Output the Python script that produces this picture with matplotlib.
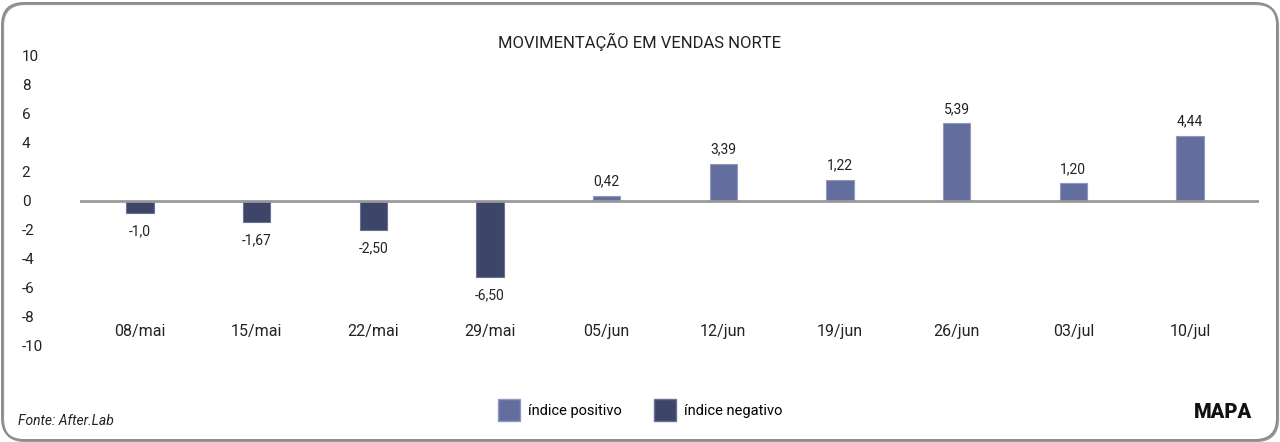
import matplotlib
matplotlib.use('Agg')
import matplotlib.pyplot as plt
from matplotlib.patches import Patch, FancyBboxPatch

# dados do grafico
semanas = ['08/mai', '15/mai', '22/mai', '29/mai', '05/jun',
           '12/jun', '19/jun', '26/jun', '03/jul', '10/jul']
# altura das barras como aparecem no grafico
valores = [-0.83, -1.47, -2.02, -5.26, 0.37, 2.57, 1.47, 5.36, 1.22, 4.50]
# rotulos escritos sobre as barras
rotulos = ['-1,0', '-1,67', '-2,50', '-6,50', '0,42',
           '3,39', '1,22', '5,39', '1,20', '4,44']
y_ticks = [10, 8, 6, 4, 2, 0, -2, -4, -6, -8, -10]

cor_pos = '#636e9f'
cor_neg = '#3d4569'

plt.rcParams['font.family'] = ['Roboto', 'DejaVu Sans']

fig = plt.figure(figsize=(12.8, 4.42), dpi=100)
ax = fig.add_axes([0.0625, 0.2175, 0.921, 0.656])

x = list(range(len(semanas)))
cores = [cor_pos if v >= 0 else cor_neg for v in valores]
bordas = ['#8f98c0' if v >= 0 else '#6a7196' for v in valores]
ax.bar(x, valores, width=0.235, color=cores, edgecolor=bordas, linewidth=0.8, zorder=2)
ax.axhline(0, color='#9a9a9a', linewidth=2, zorder=3)

for xi, v, r in zip(x, valores, rotulos):
    if v >= 0:
        ax.annotate(r, (xi, v), xytext=(0, 5), textcoords='offset points',
                    ha='center', va='bottom', fontsize=10, color='#222222')
    else:
        ax.annotate(r, (xi, v), xytext=(0, -8), textcoords='offset points',
                    ha='center', va='top', fontsize=10, color='#222222')

for xi, s in zip(x, semanas):
    ax.text(xi, -9.0, s, ha='center', va='center', fontsize=11.5, color='#222222')

ax.set_xlim(-0.514, 9.59)
ax.set_ylim(-10, 10)
ax.set_yticks(y_ticks)
ax.set_yticklabels([str(t) for t in y_ticks])
ax.set_xticks([])
ax.tick_params(axis='y', length=0, pad=42, labelsize=11, labelcolor='#222222')
for lab in ax.get_yticklabels():
    lab.set_horizontalalignment('left')
for sp in ax.spines.values():
    sp.set_visible(False)

fig.text(0.5, 0.905, 'MOVIMENTAÇÃO EM VENDAS NORTE', ha='center', va='center',
         fontsize=12, color='#222222')

handles = [Patch(facecolor=cor_pos, edgecolor='#8f98c0'),
           Patch(facecolor=cor_neg, edgecolor='#6a7196')]
fig.legend(handles, ['índice positivo', 'índice negativo'], loc='center',
           bbox_to_anchor=(0.5, 0.072), ncol=2, frameon=False, fontsize=10.5,
           handlelength=1.5, handleheight=1.9, handletextpad=0.55, columnspacing=2.2)

fig.text(18 / 1280, 1 - 421 / 442, 'Fonte: After.Lab', ha='left', va='center',
         fontsize=10, style='italic', color='#222222')
fig.text(1252 / 1280, 1 - 413 / 442, 'MAPA', ha='right', va='center',
         fontsize=14.5, fontweight='black', color='#111111')

sombra = FancyBboxPatch((3, 1), 1275, 437, boxstyle='round,pad=0,rounding_size=22',
                        transform=None, facecolor='none', edgecolor='#9a9a9a', linewidth=1.6)
fig.add_artist(sombra)
borda = FancyBboxPatch((2, 2), 1275, 437, boxstyle='round,pad=0,rounding_size=22',
                       transform=None, facecolor='none', edgecolor='#8c8c8c', linewidth=1.4)
fig.add_artist(borda)

fig.savefig('out.png', dpi=100)
